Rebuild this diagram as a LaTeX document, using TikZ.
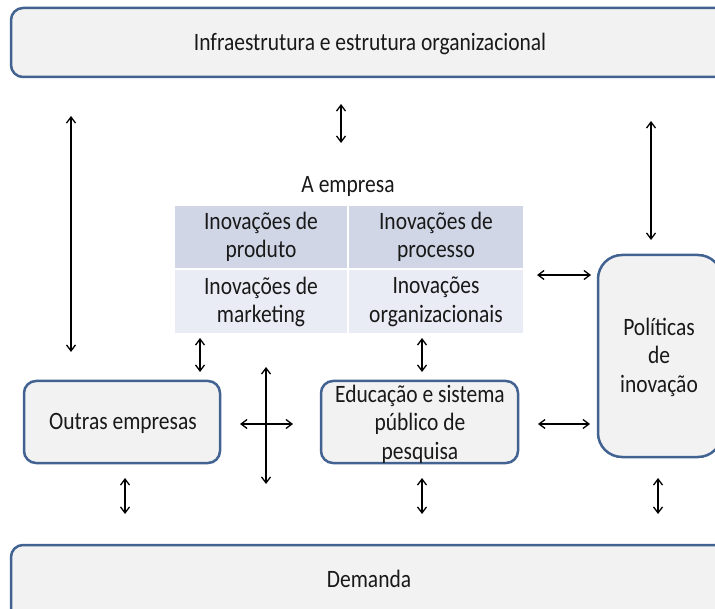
\documentclass[tikz,border=0pt]{standalone}
\usepackage{fontspec}
\setmainfont{Carlito}[FakeStretch=0.86]
\usetikzlibrary{arrows.meta}
\definecolor{boxblue}{RGB}{66,99,145}
\definecolor{boxfill}{RGB}{242,242,242}
\definecolor{rowdark}{RGB}{208,214,229}
\definecolor{rowlight}{RGB}{233,236,244}
\definecolor{textc}{RGB}{25,25,25}
\begin{document}
\begin{tikzpicture}[x=1pt,y=-1pt,
  box/.style={draw=boxblue, line width=2.5pt, fill=boxfill, rounded corners=12pt, inner sep=0pt},
  lbl/.style={font=\fontsize{25}{28.5}\selectfont, align=center, text=textc},
  cell/.style={lbl, inner sep=0pt, draw=none},
  link/.style={line width=1.3pt, draw=black, {Straight Barb[length=6pt,width=9pt]}-{Straight Barb[length=6pt,width=9pt]}}]
\clip (0,0) rectangle (715,609);
\fill[white] (0,0) rectangle (715,609);

% main boxes
\node[box, minimum width=718pt, minimum height=69pt] (infra) at (370,42.5) {};
\node[lbl] (infrat) at (370,44) {Infraestrutura e estrutura organizacional};
\node[box, minimum width=718pt, minimum height=76pt] (dem) at (370,583) {};
\node[lbl] (demt) at (369,579) {Demanda};
\node[box, rounded corners=24pt, minimum width=124pt, minimum height=202pt] (pol) at (660,356) {};
\node[lbl] (polt) at (659,357) {Políticas\\de\\inovação};
\node[box, minimum width=196pt, minimum height=82pt] (outras) at (122,422) {};
\node[lbl] (outrast) at (123,423) {Outras empresas};
\node[box, minimum width=197pt, minimum height=82pt] (edu) at (419.5,422) {};
\node[lbl] (edut) at (420,424) {Educação e sistema\\público de\\pesquisa};

% table "A empresa"
\node[cell, fill=white, minimum width=348pt, minimum height=37pt] (emp) at (349,186.5) {};
\node[lbl] (empt) at (348,186.5) {A empresa};
\node[cell, fill=rowdark, minimum width=172pt, minimum height=62pt] (prod) at (261,237) {Inovações de\\produto};
\node[cell, fill=rowdark, minimum width=174pt, minimum height=62pt] (proc) at (436,237) {Inovações de\\processo};
\node[cell, fill=rowlight, minimum width=172pt, minimum height=63pt] (mkt) at (261,302) {Inovações de\\marketing};
\node[cell, fill=rowlight, minimum width=174pt, minimum height=63pt] (org) at (436,302) {Inovações\\organizacionais};

% arrow end points
\coordinate (a1s) at (71,116);  \coordinate (a1e) at (71,352);
\coordinate (a2s) at (341,104); \coordinate (a2e) at (341,143);
\coordinate (a3s) at (651,121); \coordinate (a3e) at (651,240);
\coordinate (a4s) at (537,275); \coordinate (a4e) at (591,275);
\coordinate (a5s) at (200,338); \coordinate (a5e) at (200,372);
\coordinate (a6s) at (422,338); \coordinate (a6e) at (422,372);
\coordinate (a7s) at (266,367); \coordinate (a7e) at (266,484);
\coordinate (a8s) at (240,424); \coordinate (a8e) at (293,424);
\coordinate (a9s) at (538,424); \coordinate (a9e) at (590,424);
\coordinate (b1s) at (125,478); \coordinate (b1e) at (125,514);
\coordinate (b2s) at (422,478); \coordinate (b2e) at (422,514);
\coordinate (b3s) at (658,478); \coordinate (b3e) at (658,514);

\draw[link] (a1s) -- (a1e);
\draw[link] (a2s) -- (a2e);
\draw[link] (a3s) -- (a3e);
\draw[link] (a4s) -- (a4e);
\draw[link] (a5s) -- (a5e);
\draw[link] (a6s) -- (a6e);
\draw[link] (a7s) -- (a7e);
\draw[link] (a8s) -- (a8e);
\draw[link] (a9s) -- (a9e);
\draw[link] (b1s) -- (b1e);
\draw[link] (b2s) -- (b2e);
\draw[link] (b3s) -- (b3e);
\end{tikzpicture}
\end{document}
